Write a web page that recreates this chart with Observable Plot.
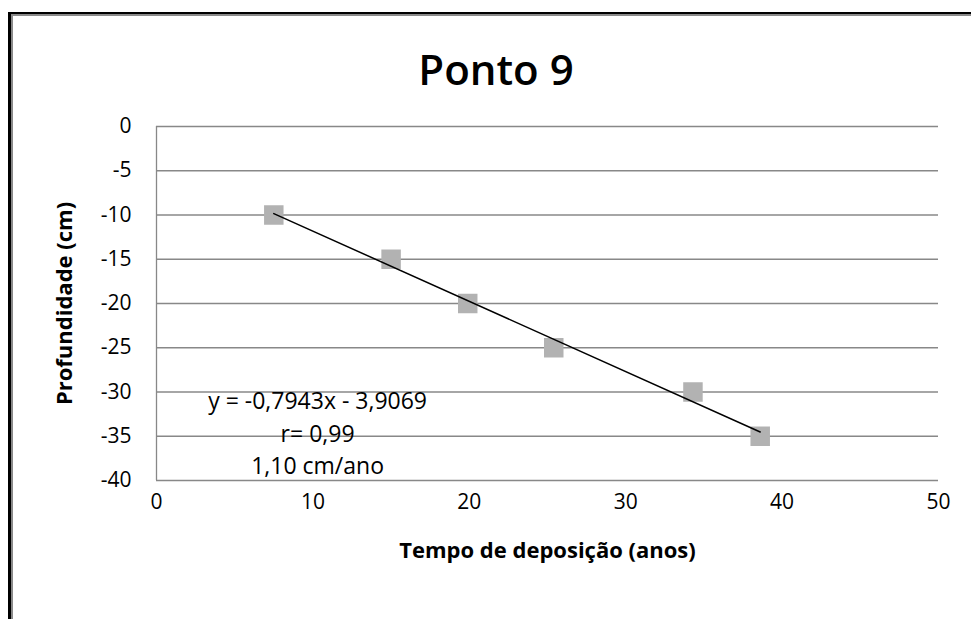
<!DOCTYPE html>
<html>
<head>
<meta charset="utf-8">
<script src="https://cdn.jsdelivr.net/npm/d3@7"></script>
<script src="https://cdn.jsdelivr.net/npm/@observablehq/plot@0.6"></script>
<style>
  body { margin: 0; background: #fff; font-family: "Open Sans", sans-serif; }
  #wrap { position: relative; width: 971px; height: 619px; overflow: hidden; background: #fff; }
  #chart { position: absolute; left: 0; top: 0; }
  #title { position: absolute; left: 19px; width: 954px; top: 42px; text-align: center;
           font-size: 42px; font-weight: 600; line-height: 54px; color: #000; }
  #b1 { position: absolute; left: 8px; top: 12px; right: -10px; bottom: -10px;
        border-left: 3px solid #000; border-top: 2px solid #000; pointer-events: none; }
  #b2 { position: absolute; left: 11px; top: 14px; right: -10px; bottom: -10px;
        border-left: 2px solid #8a8a8a; border-top: 2px solid #8a8a8a; pointer-events: none; }
</style>
</head>
<body>
<div id="wrap">
  <div id="chart"></div>
  <div id="title"></div>
  <div id="b1"></div>
  <div id="b2"></div>
</div>
<script>
const titleText = "Ponto 9";
const xLabel = "Tempo de deposição (anos)";
const yLabel = "Profundidade (cm)";
const tempo = [7.5, 15, 19.9, 25.4, 34.3, 38.6];
const profundidade = [-10, -15, -20, -25, -30, -35];
const xTicks = [0, 10, 20, 30, 40, 50];
const yTicks = [0, -5, -10, -15, -20, -25, -30, -35, -40];
const annotation = ["y = -0,7943x - 3,9069", "r= 0,99", "1,10 cm/ano"];

const data = tempo.map((t, i) => ({x: t, y: profundidade[i]}));

document.getElementById("title").textContent = titleText;

const chart = Plot.plot({
  width: 971,
  height: 619,
  marginLeft: 156,
  marginRight: 33,
  marginTop: 126,
  marginBottom: 139,
  style: {fontFamily: "Open Sans", fontSize: "21px", color: "#000", background: "transparent"},
  x: {domain: [0, 50], ticks: xTicks, tickSize: 0, tickPadding: 14, label: null, tickFormat: d => String(d)},
  y: {domain: [-40, 0], ticks: yTicks, tickSize: 0, tickPadding: 25, label: null, tickFormat: d => String(d)},
  marks: [
    Plot.ruleY(yTicks, {stroke: "#888", strokeWidth: 1.3}),
    Plot.ruleX([0], {stroke: "#888", strokeWidth: 1.3}),
    Plot.dot(data, {x: "x", y: "y", symbol: "square", r: 11, fill: "#b2b2b2"}),
    Plot.linearRegressionY(data, {x: "x", y: "y", stroke: "#000", strokeWidth: 1.5, ci: 0}),
    Plot.text([annotation.join("\n")], {x: 10.3, y: -34.45, lineHeight: 1.42, fontSize: 23, fill: "#000"}),
    Plot.text([xLabel], {frameAnchor: "bottom", dy: 70, lineAnchor: "middle", textAnchor: "middle", fontWeight: "bold", fontSize: 22, fill: "#000"}),
    Plot.text([yLabel], {frameAnchor: "left", dx: -92, rotate: -90, textAnchor: "middle", lineAnchor: "middle", fontWeight: "bold", fontSize: 22, fill: "#000"})
  ]
});
document.getElementById("chart").appendChild(chart);
</script>
</body>
</html>
